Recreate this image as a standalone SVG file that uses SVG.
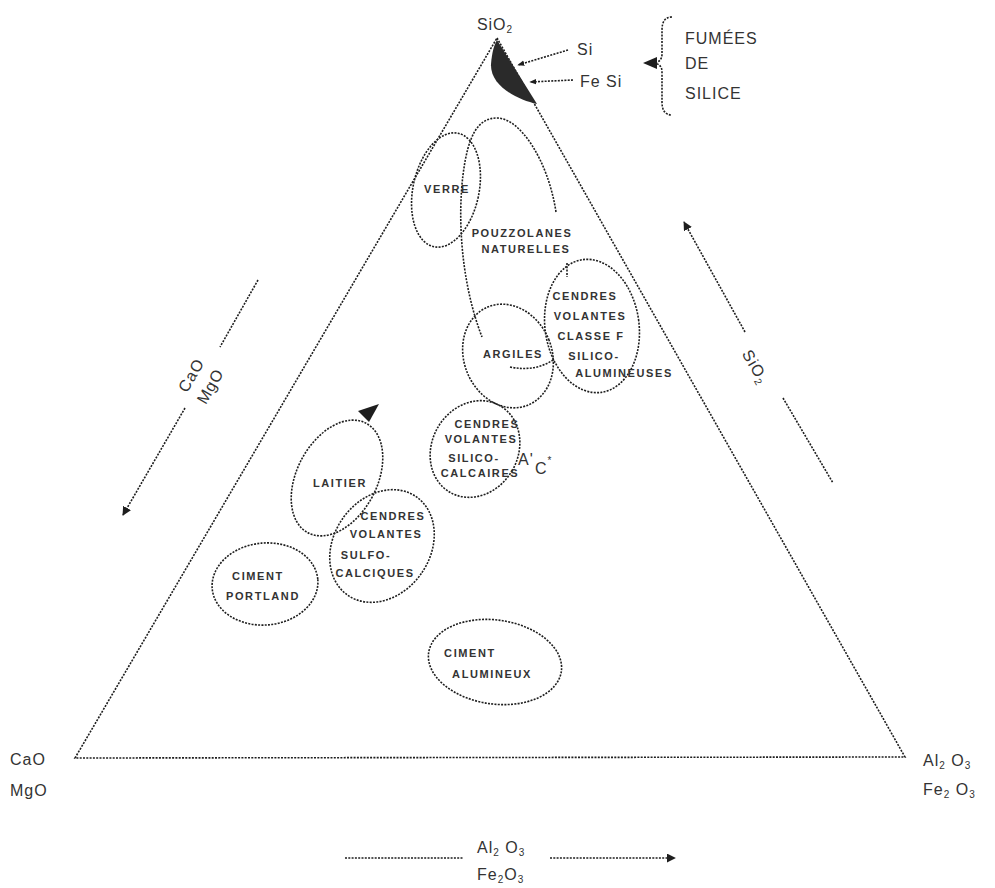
<svg xmlns="http://www.w3.org/2000/svg" width="995" height="888" viewBox="0 0 995 888">
<defs>
<style>
.ln{fill:none;stroke:#1e1e1e;stroke-width:1.6;stroke-dasharray:2 1.3}
.el{fill:none;stroke:#1e1e1e;stroke-width:1.6;stroke-dasharray:2 1.3}
.t{font-family:"Liberation Sans",Arial,sans-serif;font-size:11px;fill:#333;letter-spacing:1.6px;text-anchor:middle;font-weight:bold}
.big{font-family:"Liberation Sans",Arial,sans-serif;font-size:16px;fill:#333;letter-spacing:1px}
.sub{font-size:10px}
</style>
<marker id="ah" viewBox="0 0 10 10" refX="9" refY="5" markerWidth="9" markerHeight="9" orient="auto" markerUnits="userSpaceOnUse">
<path d="M0,0 L10,5 L0,10 Z" fill="#1e1e1e"/>
</marker>
<marker id="ahs" viewBox="0 0 10 10" refX="9" refY="5" markerWidth="7" markerHeight="7" orient="auto" markerUnits="userSpaceOnUse">
<path d="M0,1 L10,5 L0,9 Z" fill="#1e1e1e"/>
</marker>
</defs>
<rect width="995" height="888" fill="#fff"/>

<g id="triangle">
<path class="ln" d="M497,38 L905,757 L75,758 Z"/>
<path d="M497,40 L537,104 C518,100 490,86 491,64 C492,52 494,45 497,40 Z" fill="#2a2a2a"/>
</g>

<g id="connectors">
<line class="ln" x1="568" y1="50" x2="518" y2="65" marker-end="url(#ahs)"/>
<line class="ln" x1="573" y1="80" x2="530" y2="82" marker-end="url(#ahs)"/>
<path class="ln" d="M672,17 Q662,17 662,30 L662,54 Q662,63 652,63 Q662,63 662,72 L662,102 Q662,115 672,115"/>
<polygon points="643,63 657,57 657,69" fill="#1e1e1e"/>
<path class="ln" d="M556,212 C548,160 520,118 497,118 C478,118 468,135 463,175 C458,215 460,280 482,337"/>
<line class="ln" x1="567" y1="263" x2="567" y2="277"/>
<path class="ln" d="M510,367 Q535,372 553,360"/>
<polygon points="379,404 358,411 369,422" fill="#1e1e1e"/>
<line class="ln" x1="258" y1="280" x2="220" y2="347"/>
<line class="ln" x1="185" y1="408" x2="123" y2="515" marker-end="url(#ah)"/>
<line class="ln" x1="745" y1="332" x2="684" y2="222" marker-end="url(#ah)"/>
<line class="ln" x1="783" y1="398" x2="833" y2="483"/>
<line class="ln" x1="345" y1="858" x2="463" y2="858"/>
<line class="ln" x1="550" y1="858" x2="675" y2="858" marker-end="url(#ah)"/>
</g>

<g id="labels-axes">
<text class="big" x="495" y="30" text-anchor="middle">SiO<tspan class="sub" dy="3">2</tspan></text>
<text class="big" x="577" y="55">Si</text>
<text class="big" x="580" y="87">Fe Si</text>
<text class="big" x="685" y="44" letter-spacing="2">FUMÉES</text>
<text class="big" x="685" y="69" letter-spacing="2">DE</text>
<text class="big" x="685" y="99" letter-spacing="2">SILICE</text>
<text class="big" x="10" y="765">CaO</text>
<text class="big" x="10" y="796">MgO</text>
<text class="big" x="923" y="766">Al<tspan class="sub" dy="3">2</tspan><tspan dy="-3"> O</tspan><tspan class="sub" dy="3">3</tspan></text>
<text class="big" x="923" y="795">Fe<tspan class="sub" dy="3">2</tspan><tspan dy="-3"> O</tspan><tspan class="sub" dy="3">3</tspan></text>
<text class="big" x="477" y="853">Al<tspan class="sub" dy="3">2</tspan><tspan dy="-3"> O</tspan><tspan class="sub" dy="3">3</tspan></text>
<text class="big" x="477" y="880">Fe<tspan class="sub" dy="3">2</tspan><tspan dy="-3">O</tspan><tspan class="sub" dy="3">3</tspan></text>
<g transform="translate(196,378) rotate(-60)">
<text class="big" x="0" y="0" text-anchor="middle">CaO</text>
<text class="big" x="0" y="22" text-anchor="middle">MgO</text>
</g>
<g transform="translate(755,367) rotate(60)">
<text class="big" x="0" y="5" text-anchor="middle">SiO<tspan class="sub" dy="3">2</tspan></text>
</g>
</g>

<g id="verre">
<ellipse class="el" cx="446" cy="190" rx="33" ry="58" transform="rotate(12 446 190)"/>
<text class="t" x="447" y="193">VERRE</text>
</g>

<g id="pouzzolanes">
<text class="t" x="522" y="237">POUZZOLANES</text>
<text class="t" x="526" y="253">NATURELLES</text>
</g>

<g id="cendres-f">
<ellipse class="el" cx="592" cy="326" rx="47" ry="67" transform="rotate(-8 592 326)"/>
<text class="t" x="585" y="300">CENDRES</text>
<text class="t" x="590" y="320">VOLANTES</text>
<text class="t" x="591" y="340">CLASSE F</text>
<text class="t" x="594" y="360">SILICO-</text>
<text class="t" x="624" y="377">ALUMINEUSES</text>
</g>

<g id="argiles">
<ellipse class="el" cx="508" cy="356" rx="44" ry="53" transform="rotate(-22 508 356)"/>
<text class="t" x="513" y="358">ARGILES</text>
</g>

<g id="cendres-sc">
<ellipse class="el" cx="475" cy="449" rx="43" ry="50" transform="rotate(30 475 449)"/>
<text class="t" x="487" y="428">CENDRES</text>
<text class="t" x="481" y="443">VOLANTES</text>
<text class="t" x="474" y="462">SILICO-</text>
<text class="t" x="480" y="477">CALCAIRES</text>
<text class="big" x="518" y="465" font-size="12">A'</text>
<text class="big" x="535" y="474" font-size="20">C<tspan font-size="10" dy="-10">*</tspan></text>
</g>

<g id="laitier">
<ellipse class="el" cx="337" cy="478" rx="40" ry="62" transform="rotate(28 337 478)"/>
<text class="t" x="340" y="487">LAITIER</text>
</g>

<g id="cendres-sulfo">
<ellipse class="el" cx="382" cy="546" rx="48" ry="60" transform="rotate(35 382 546)"/>
<text class="t" x="393" y="520">CENDRES</text>
<text class="t" x="386" y="538">VOLANTES</text>
<text class="t" x="366" y="559">SULFO-</text>
<text class="t" x="375" y="577">CALCIQUES</text>
</g>

<g id="portland">
<ellipse class="el" cx="265" cy="584" rx="53" ry="41" transform="rotate(-5 265 584)"/>
<text class="t" x="258" y="580">CIMENT</text>
<text class="t" x="263" y="600">PORTLAND</text>
</g>

<g id="alumineux">
<ellipse class="el" cx="495" cy="662" rx="67" ry="42" transform="rotate(8 495 662)"/>
<text class="t" x="470" y="657">CIMENT</text>
<text class="t" x="492" y="678">ALUMINEUX</text>
</g>
</svg>
